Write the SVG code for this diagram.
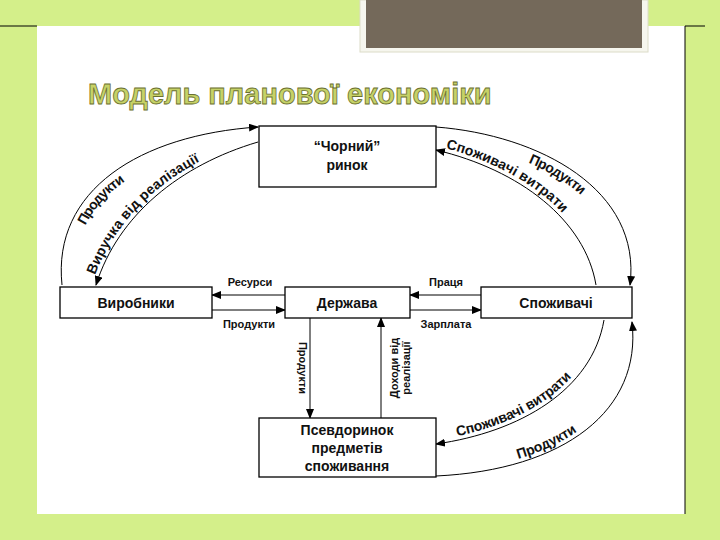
<svg xmlns="http://www.w3.org/2000/svg" width="720" height="540" viewBox="0 0 720 540">
<defs>
<style>
.box{fill:#fff;stroke:#000;stroke-width:1.3}
.ln{fill:none;stroke:#000;stroke-width:1}
.t{font-family:"Liberation Sans",Arial,sans-serif;font-weight:bold;fill:#111;text-anchor:middle}
.s{font-size:11px}
.c{font-family:"Liberation Sans",Arial,sans-serif;font-weight:bold;fill:#111;font-size:14px}
</style>
<marker id="a" markerWidth="10" markerHeight="8" refX="9" refY="4" orient="auto" markerUnits="userSpaceOnUse"><path d="M0,0L10,4L0,8z" fill="#000"/></marker>
<path id="p1" d="M62,285 C52,190 140,135 258,127"/>
<path id="p2" d="M96,285 C118,215 180,165 258,142"/>
<path id="p3" d="M436,127 C540,135 642,190 630,285"/>
<path id="p4" d="M436,150 C520,170 585,220 596,285"/>
<path id="p5" d="M436,444 C520,432 592,390 604,320"/>
<path id="p6" d="M436,476 C565,470 642,410 632,322"/>
</defs>
<rect width="720" height="540" fill="#d4ef8a"/>
<rect x="37" y="26" width="648" height="488" fill="#fff"/>
<path d="M0,26H37M685,26H705M685,26V514" stroke="#000" fill="none"/>
<rect x="360" y="0" width="288" height="52" fill="#f6f6ee" stroke="#dcdcc8"/>
<rect x="366" y="0" width="276" height="48" fill="#74695a"/>
<text x="88" y="104" font-family="'Liberation Sans',Arial,sans-serif" font-weight="bold" font-size="29" fill="#c6d267" stroke="#6b7030" stroke-width="0.8">Модель планової економіки</text>
<g id="connectors">
<use href="#p1" class="ln" marker-end="url(#a)"/>
<path d="M258,142 C180,165 118,215 96,285" class="ln" marker-end="url(#a)"/>
<use href="#p3" class="ln" marker-end="url(#a)"/>
<path d="M596,285 C585,220 520,170 436,150" class="ln" marker-end="url(#a)"/>
<path d="M604,320 C592,390 520,432 436,444" class="ln" marker-end="url(#a)"/>
<use href="#p6" class="ln" marker-end="url(#a)"/>
<path d="M285,295H212" class="ln" marker-end="url(#a)"/>
<path d="M212,310H285" class="ln" marker-end="url(#a)"/>
<path d="M481,295H410" class="ln" marker-end="url(#a)"/>
<path d="M410,310H481" class="ln" marker-end="url(#a)"/>
<path d="M310,318V418" class="ln" marker-end="url(#a)"/>
<path d="M381,418V318" class="ln" stroke-width="1.5" marker-end="url(#a)"/>
<text class="c"><textPath href="#p1" startOffset="24%"><tspan dy="14">Продукти</tspan></textPath></text>
<text class="c"><textPath href="#p2" startOffset="4%"><tspan dy="-4">Виручка від реалізації</tspan></textPath></text>
<text class="c"><textPath href="#p3" startOffset="36%"><tspan dy="14">Продукти</tspan></textPath></text>
<text class="c"><textPath href="#p4" startOffset="4%"><tspan dy="-4">Споживачі витрати</tspan></textPath></text>
<text class="c"><textPath href="#p5" startOffset="10%"><tspan dy="-4">Споживачі витрати</tspan></textPath></text>
<text class="c"><textPath href="#p6" startOffset="30%"><tspan dy="-4">Продукти</tspan></textPath></text>
<text class="t s" x="250" y="286">Ресурси</text>
<text class="t s" x="249" y="328">Продукти</text>
<text class="t s" x="446" y="286">Праця</text>
<text class="t s" x="446" y="328">Зарплата</text>
<text class="t s" transform="translate(299,368) rotate(90)">Продукти</text>
<text class="t s" transform="translate(398,368) rotate(-90)">Доходи від</text>
<text class="t s" transform="translate(410,368) rotate(-90)">реалізації</text>
</g>
<g id="black"><rect class="box" x="259" y="126" width="177" height="61"/><text class="t" font-size="14" x="347" y="151">“Чорний”</text><text class="t" font-size="14" x="347" y="170">ринок</text></g>
<g id="vyrobnyky"><rect class="box" x="60" y="287" width="152" height="31"/><text class="t" font-size="14" x="136" y="308">Виробники</text></g>
<g id="derzhava"><rect class="box" x="285" y="287" width="125" height="31"/><text class="t" font-size="14" x="347" y="308">Держава</text></g>
<g id="spozhyvachi"><rect class="box" x="481" y="287" width="151" height="31"/><text class="t" font-size="14" x="556" y="308">Споживачі</text></g>
<g id="pseudo"><rect class="box" x="259" y="418" width="177" height="59"/><text class="t" font-size="14" x="347" y="435">Псевдоринок</text><text class="t" font-size="14" x="347" y="453">предметів</text><text class="t" font-size="14" x="347" y="471">споживання</text></g>
</svg>
